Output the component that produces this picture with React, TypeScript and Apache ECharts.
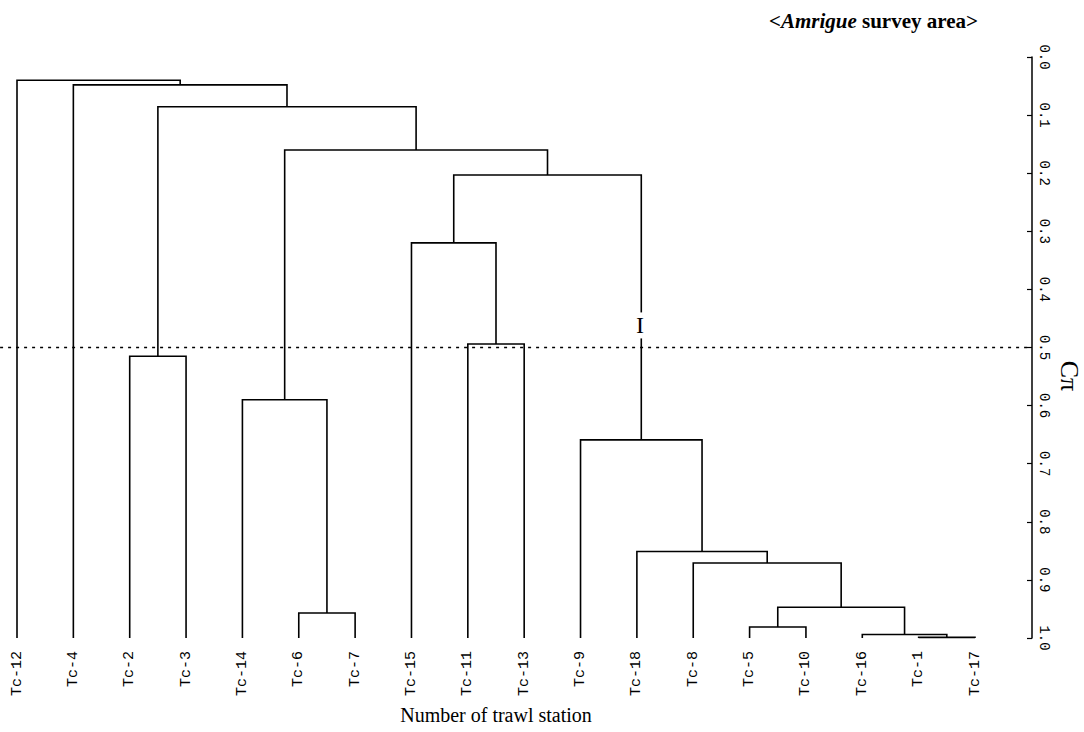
import React, { useEffect, useRef } from "react";
import * as echarts from "echarts";

// Leaves (trawl stations) in dendrogram order
const leaves = [
  "Tc-12", "Tc-4", "Tc-2", "Tc-3", "Tc-14", "Tc-6", "Tc-7", "Tc-15", "Tc-11",
  "Tc-13", "Tc-9", "Tc-18", "Tc-8", "Tc-5", "Tc-10", "Tc-16", "Tc-1", "Tc-17",
];

// Merge table: node ids 0..17 are leaves, merge k creates node 18+k
const mergeLeft = [16, 15, 13, 20, 5, 12, 11, 10, 4, 2, 8, 7, 29, 26, 27, 1, 0];
const mergeRight = [17, 18, 14, 19, 6, 21, 23, 24, 22, 3, 9, 28, 25, 30, 31, 32, 33];
const mergeHeight = [
  0.999, 0.994, 0.981, 0.947, 0.957, 0.871, 0.851, 0.659, 0.59, 0.515, 0.494,
  0.32, 0.203, 0.16, 0.0855, 0.048, 0.04,
];

const yTicks = [0, 0.1, 0.2, 0.3, 0.4, 0.5, 0.6, 0.7, 0.8, 0.9, 1.0];
const cutLevel = 0.5;
const clusterLabels = [{ name: "I", leaf: 11, level: 0.462 }];

function buildSegments() {
  const nx: number[] = leaves.map((_, i) => i);
  const nh: number[] = leaves.map(() => 1.0);
  const segs: number[][] = [];
  mergeLeft.forEach((l, k) => {
    const r = mergeRight[k];
    const h = mergeHeight[k];
    segs.push([nx[l], nh[l], nx[r], nh[r], h]);
    nx.push((nx[l] + nx[r]) / 2);
    nh.push(h);
  });
  return segs;
}

export default function App() {
  const ref = useRef<HTMLDivElement>(null);
  useEffect(() => {
    document.body.style.margin = "0";
    if (!ref.current) return;
    const chart = echarts.init(ref.current, undefined, { renderer: "svg" });
    const segs = buildSegments();
    const serif = "Liberation Serif";
    const mono = "Liberation Mono";
    chart.setOption({
      animation: false,
      backgroundColor: "#ffffff",
      grid: { left: 17, right: 109, top: 57, bottom: 94 },
      xAxis: {
        type: "value",
        min: 0,
        max: leaves.length - 1,
        interval: 1,
        axisLine: { show: false },
        axisTick: { show: false },
        splitLine: { show: false },
        axisLabel: {
          rotate: 90,
          margin: 13,
          color: "#000",
          fontFamily: mono,
          fontSize: 15,
          formatter: (v: number) => leaves[Math.round(v)] ?? "",
        },
        name: "Number of trawl station",
        nameLocation: "middle",
        nameGap: 67,
        nameTextStyle: { color: "#000", fontFamily: serif, fontSize: 20 },
      },
      yAxis: {
        type: "value",
        position: "right",
        offset: 57,
        inverse: true,
        min: 0,
        max: 1,
        interval: 0.1,
        axisLine: { show: true, onZero: false, lineStyle: { color: "#000", width: 1.5 } },
        axisTick: { show: true, inside: true, length: 5, lineStyle: { color: "#000", width: 1.2 } },
        splitLine: { show: false },
        axisLabel: {
          rotate: -90,
          margin: 5,
          color: "#000",
          fontFamily: mono,
          fontSize: 14,
          formatter: (v: number) => {
            const t = yTicks.find((x) => Math.abs(x - v) < 1e-6);
            return t === undefined ? "" : t.toFixed(1);
          },
        },
      },
      graphic: [
        {
          type: "text",
          x: 978,
          y: 21,
          style: {
            text: "{a|<}{b|Amrigue}{a| survey area>}",
            align: "right",
            verticalAlign: "middle",
            fill: "#000",
            rich: {
              a: { fontFamily: serif, fontWeight: "bold", fontSize: 21, fill: "#000" },
              b: { fontFamily: serif, fontWeight: "bold", fontStyle: "italic", fontSize: 21, fill: "#000" },
            },
          },
        },
        {
          type: "text",
          x: 1069,
          y: 376,
          rotation: -Math.PI / 2,
          style: {
            text: "Cπ",
            align: "center",
            verticalAlign: "middle",
            fontFamily: serif,
            fontSize: 26,
            fill: "#000",
          },
        },
      ],
      series: [
        {
          type: "custom",
          name: "dendrogram",
          data: segs,
          encode: { x: [0, 2], y: [1, 3, 4] },
          renderItem: (params: any, api: any) => {
            const a = api.coord([api.value(0), api.value(1)]);
            const b = api.coord([api.value(0), api.value(4)]);
            const c = api.coord([api.value(2), api.value(4)]);
            const d = api.coord([api.value(2), api.value(3)]);
            return {
              type: "polyline",
              shape: { points: [a, b, c, d] },
              style: { stroke: "#000", lineWidth: 1.6, fill: "none" },
            };
          },
        },
        {
          type: "custom",
          name: "cut",
          clip: false,
          data: [[-0.3, 17.98, cutLevel]],
          renderItem: (params: any, api: any) => {
            const a = api.coord([api.value(0), api.value(2)]);
            const b = api.coord([api.value(1), api.value(2)]);
            return {
              type: "line",
              shape: { x1: a[0], y1: a[1], x2: b[0], y2: b[1] },
              style: { stroke: "#000", lineWidth: 1.6, lineDash: [3, 5] },
            };
          },
        },
        {
          type: "custom",
          name: "clusters",
          clip: false,
          data: clusterLabels.map((c) => [c.leaf, c.level]),
          renderItem: (params: any, api: any) => {
            const p = api.coord([api.value(0), api.value(1)]);
            const lab = clusterLabels[params.dataIndex].name;
            return {
              type: "group",
              children: [
                {
                  type: "rect",
                  shape: { x: p[0] - 6, y: p[1] - 13, width: 12, height: 26 },
                  style: { fill: "#fff" },
                },
                {
                  type: "text",
                  x: p[0] + 3,
                  y: p[1],
                  style: {
                    text: lab,
                    align: "center",
                    verticalAlign: "middle",
                    fontFamily: serif,
                    fontSize: 24,
                    fill: "#000",
                  },
                },
              ],
            };
          },
        },
      ],
    });
    return () => chart.dispose();
  }, []);
  return <div ref={ref} style={{ width: 1084, height: 732 }} />;
}
